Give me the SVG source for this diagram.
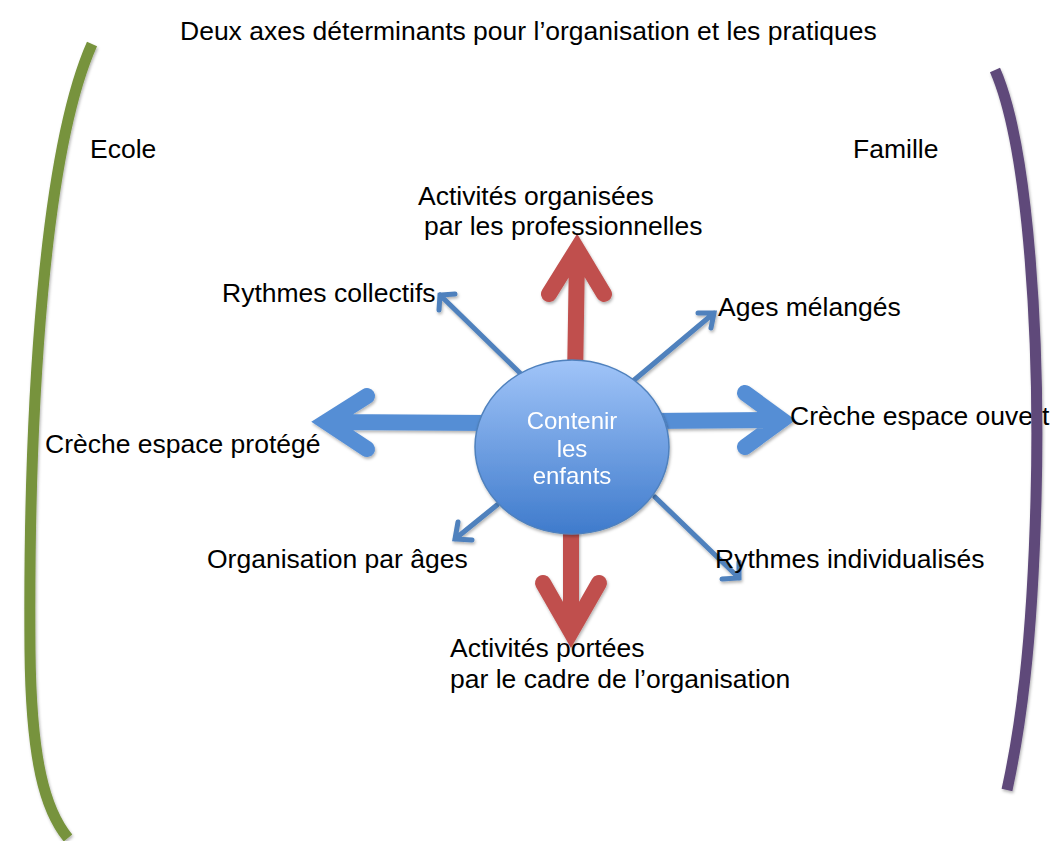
<svg xmlns="http://www.w3.org/2000/svg" width="1050" height="841" viewBox="0 0 1050 841">
<defs>
<style>
text{font-family:"Liberation Sans",Arial,sans-serif;font-size:26.5px;fill:#000}
.center{fill:#fff;font-size:24px;text-anchor:middle}
.big{fill:none;stroke-width:16;stroke-linecap:round;stroke-linejoin:miter;stroke-miterlimit:10}
.red{stroke:#C0504D}
.blue{stroke:#558ED5}
.thin{fill:none;stroke:#4F81BD;stroke-width:5;stroke-linecap:round;stroke-linejoin:miter;stroke-miterlimit:10}
.bracket{fill:none;stroke-width:11;stroke-linecap:butt}
</style>
<linearGradient id="gc" x1="0" y1="0" x2="0" y2="1">
<stop offset="0" stop-color="#A0C4F8"/>
<stop offset="1" stop-color="#3F7BCC"/>
</linearGradient>
<filter id="sh" x="-20%" y="-20%" width="140%" height="140%">
<feDropShadow dx="1" dy="2" stdDeviation="1.5" flood-color="#000" flood-opacity="0.3"/>
</filter>
</defs>
<rect width="1050" height="841" fill="#fff"/>
<g id="title"><text x="180" y="40">Deux axes déterminants pour l’organisation et les pratiques</text></g>
<g id="ecole"><text x="90" y="158">Ecole</text></g>
<g id="famille"><text x="853" y="158">Famille</text></g>
<g id="connectors" filter="url(#sh)">
<path class="big red" d="M575,380 L577,255 M549,294 L577,249 L604,294"/>
<path class="big red" d="M571,520 L571,625 M543,583 L571,632 L599,583"/>
<path class="big blue" d="M490,423 L332,422 M367,396 L326,422 L367,449"/>
<path class="big blue" d="M650,421 L776,420 M745,393 L782,420 L745,447"/>
<path class="thin" d="M520,373 L440,295 M439,310 L440,295 L455,294"/>
<path class="thin" d="M633,381 L714,313 M698,313 L714,313 L711,328"/>
<path class="thin" d="M497,505 L455,539 M472,540 L455,539 L458,522"/>
<path class="thin" d="M655,497 L739,578 M722,579 L739,578 L739,562"/>
</g>
<g id="node-center" filter="url(#sh)">
<ellipse cx="572" cy="447" rx="97" ry="87" fill="url(#gc)" stroke="#4F81BD" stroke-width="1.5"/>
<text class="center" x="572" y="429">Contenir</text>
<text class="center" x="572" y="457">les</text>
<text class="center" x="572" y="484">enfants</text>
</g>
<g id="label-top"><text x="418" y="205">Activités organisées</text><text x="424" y="235">par les professionnelles</text></g>
<g id="label-ul"><text x="222" y="302">Rythmes collectifs</text></g>
<g id="label-ur"><text x="718" y="316">Ages mélangés</text></g>
<g id="label-left"><text x="45" y="453">Crèche espace protégé</text></g>
<g id="label-right"><text x="790" y="425">Crèche espace ouvert</text></g>
<g id="label-ll"><text x="207" y="568">Organisation par âges</text></g>
<g id="label-lr"><text x="715" y="568">Rythmes individualisés</text></g>
<g id="label-bottom"><text x="450" y="657">Activités portées</text><text x="450" y="688">par le cadre de l’organisation</text></g>
<g id="bracket-ecole" filter="url(#sh)"><path class="bracket" stroke="#77933C" d="M92,44 C45,150 28,400 30,650 C31,760 45,810 68,838"/></g>
<g id="bracket-famille" filter="url(#sh)"><path class="bracket" stroke="#5F497A" d="M995,70 C1030,150 1040,350 1036,500 C1032,650 1020,730 1007,790"/></g>
</svg>
